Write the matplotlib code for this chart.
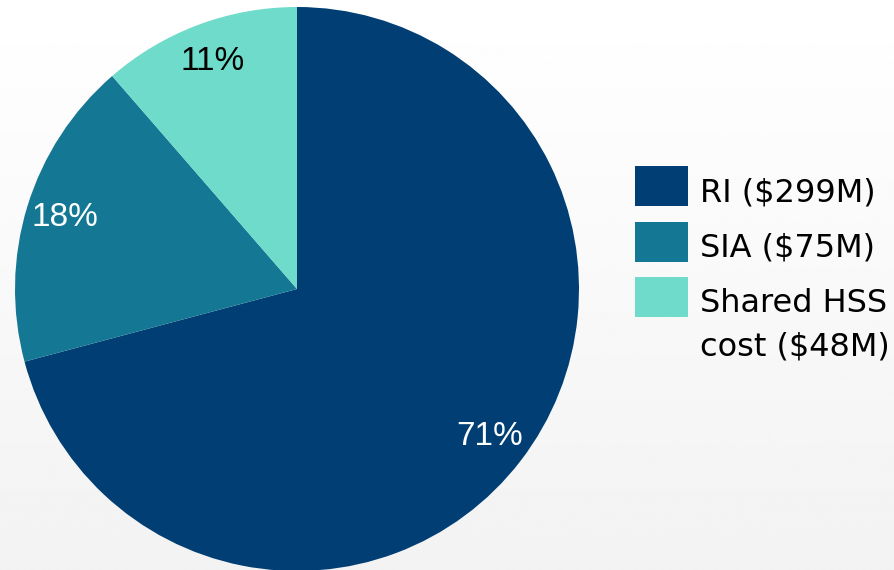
import numpy as np
import matplotlib.pyplot as plt
from matplotlib.patches import Rectangle

# Cost split, $M
labels = ['RI ($299M)', 'SIA ($75M)', 'Shared HSS\ncost ($48M)']
values = [299, 75, 48]
colors = ['#003E74', '#147894', '#6EDBCB']
pct_colors = ['white', 'white', 'black']

W, H = 894, 570
fig = plt.figure(figsize=(W / 100, H / 100), dpi=100)

# soft white-to-grey background
bg = fig.add_axes([0, 0, 1, 1], zorder=-1)
grad = np.linspace(1.0, 0.95, 256).reshape(-1, 1)
bg.imshow(grad, cmap='gray', vmin=0, vmax=1, aspect='auto', extent=[0, 1, 0, 1])
bg.axis('off')

ax = fig.add_axes([15 / W, -1 / H, 564 / W, 564 / H])
wedges, texts, autotexts = ax.pie(values, colors=colors, startangle=90,
                                  counterclock=False, autopct='%1.0f%%',
                                  pctdistance=0.86, radius=1,
                                  wedgeprops=dict(linewidth=0))
for t, c in zip(autotexts, pct_colors):
    t.set_color(c)
    t.set_fontsize(24)
    t.set_family('Liberation Sans')
ax.set_xlim(-1, 1)
ax.set_ylim(-1, 1)
ax.set_aspect('equal')

# legend drawn by hand so the two-line entry keeps its box on the first line
for i, (lab, col) in enumerate(zip(labels, colors)):
    top = 166 + i * 55.5
    fig.add_artist(Rectangle((635 / W, 1 - (top + 40) / H), 53 / W, 40 / H,
                             transform=fig.transFigure, facecolor=col, edgecolor='none'))
    for k, line in enumerate(lab.split('\n')):
        fig.text(700 / W, 1 - (top + 35 + k * 43) / H, line, fontsize=23,
                 family='DejaVu Sans', va='baseline', ha='left')

fig.savefig('out.png', dpi=100)
